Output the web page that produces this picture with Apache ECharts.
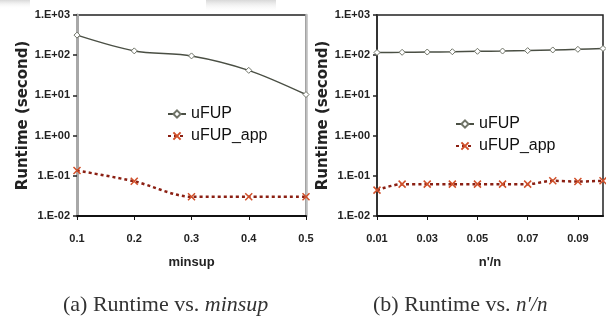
<!DOCTYPE html>
<html>
<head>
<meta charset="utf-8">
<script src="https://cdn.jsdelivr.net/npm/echarts@6/dist/echarts.min.js"></script>
<style>
  html, body { margin: 0; padding: 0; background: #fff; }
  #chart { width: 606px; height: 320px; }
</style>
</head>
<body>
<div id="chart"></div>
<script>
// (a) runtime vs minsup
var minsupCats = ['0.1', '0.2', '0.3', '0.4', '0.5'];
var minsupUFUP = [316, 128, 96, 42, 10.5];
var minsupUFUPApp = [0.135, 0.073, 0.030, 0.030, 0.030];

// (b) runtime vs n'/n
var ratioCats = ['0.01', '0.02', '0.03', '0.04', '0.05', '0.06', '0.07', '0.08', '0.09', '0.1'];
var ratioUFUP = [117, 118, 120, 122, 125, 127, 130, 135, 140, 147];
var ratioUFUPApp = [0.044, 0.062, 0.062, 0.062, 0.062, 0.062, 0.062, 0.075, 0.072, 0.075];

var yMin = 0.01, yMax = 1000;

var crossSym = 'path://M0,0L10,10M10,0L0,10';
var labelFont = 'Liberation Sans';

function expLabel(v) {
    var e = Math.round(Math.log(v) / Math.LN10);
    var s = e < 0 ? '-' : '+';
    var a = Math.abs(e);
    return '1.E' + s + (a < 10 ? '0' + a : a);
}

function yAxisFor(gi, lineColor, lineWidth) {
    return {
        type: 'log', logBase: 10, gridIndex: gi, min: yMin, max: yMax,
        name: 'Runtime (second)', nameLocation: 'middle', nameGap: 45,
        nameTextStyle: { fontFamily: 'DejaVu Sans', fontWeight: 'bold', fontSize: 15, color: '#222' },
        axisLine: { show: true, lineStyle: { color: lineColor, width: lineWidth } },
        axisTick: { show: true, length: 4, inside: false, lineStyle: { color: '#222', width: 1.5 } },
        minorTick: { show: false },
        splitLine: { show: false },
        axisLabel: { formatter: expLabel, margin: 7, fontFamily: labelFont, fontWeight: 'bold', fontSize: 11, color: '#222' }
    };
}

function xAxisFor(gi, cats, name, labelInt) {
    return {
        type: 'category', gridIndex: gi, data: cats, boundaryGap: false,
        name: name, nameLocation: 'middle', nameGap: 40,
        nameTextStyle: { fontFamily: labelFont, fontWeight: 'bold', fontSize: 13, color: '#222' },
        axisLine: { show: true, lineStyle: { color: '#111', width: 2 } },
        axisTick: { show: true, length: 4, interval: labelInt, alignWithLabel: true, lineStyle: { color: '#111' } },
        axisLabel: { interval: labelInt, margin: 17, fontFamily: labelFont, fontWeight: 'bold', fontSize: 11, color: '#222' }
    };
}

function ufupSeries(xi, data) {
    return {
        name: 'uFUP', type: 'line', xAxisIndex: xi, yAxisIndex: xi * 2, data: data,
        smooth: 0.3,
        symbol: 'diamond', symbolSize: 6, showSymbol: true,
        lineStyle: { color: '#4a4f44', width: 1.5 },
        itemStyle: { color: '#fff', borderColor: '#707468', borderWidth: 1 }
    };
}

function appSeries(xi, data) {
    return {
        name: 'uFUP_app', type: 'line', xAxisIndex: xi, yAxisIndex: xi * 2, data: data,
        smooth: 0.3,
        symbol: crossSym, symbolSize: 7, showSymbol: true,
        lineStyle: { color: '#8b1f12', width: 2.5, type: [3, 3] },
        itemStyle: { color: '#e0632a', borderColor: '#d0502a', borderWidth: 1.5 }
    };
}

function legendAt(x, y) {
    return {
        data: ['uFUP', 'uFUP_app'], orient: 'vertical', left: x, top: y,
        itemWidth: 18, itemHeight: 9, itemGap: 6, selectedMode: false,
        textStyle: { fontFamily: labelFont, fontSize: 16, color: '#111' }
    };
}

// soft grey fade for the scan smudges at the top edge
function smudge(x, w, h) {
    return {
        type: 'rect', silent: true, shape: { x: x, y: 0, width: w, height: h },
        style: { fill: new echarts.graphic.LinearGradient(0, 0, 0, 1, [
            { offset: 0, color: 'rgba(200,200,200,0.7)' },
            { offset: 1, color: 'rgba(255,255,255,0)' }
        ]) }
    };
}

var chart = echarts.init(document.getElementById('chart'), null, { renderer: 'canvas' });

var option = {
    backgroundColor: '#fff',
    animation: false,
    graphic: [smudge(0, 30, 9), smudge(206, 70, 12)],
    title: [
        {
            text: '(a) Runtime vs. {it|minsup}', left: 58, top: 289,
            textStyle: { fontFamily: 'Liberation Serif', fontWeight: 'normal', fontSize: 22, color: '#333',
                rich: { it: { fontFamily: 'Liberation Serif', fontStyle: 'italic', fontSize: 22, color: '#333' } } }
        },
        {
            text: '(b) Runtime vs. {it|n′/n}', left: 368, top: 289,
            textStyle: { fontFamily: 'Liberation Serif', fontWeight: 'normal', fontSize: 22, color: '#333',
                rich: { it: { fontFamily: 'Liberation Serif', fontStyle: 'italic', fontSize: 21, color: '#333' } } }
        }
    ],
    legend: [legendAt(162, 101), legendAt(450, 111)],
    grid: [
        { left: 77, right: 300, top: 15, bottom: 104, show: true, borderColor: '#222', borderWidth: 1.5 },
        { left: 377, right: 3, top: 15, bottom: 104, show: true, borderColor: '#222', borderWidth: 1.5 }
    ],
    xAxis: [
        xAxisFor(0, minsupCats, 'minsup', 0),
        xAxisFor(1, ratioCats, "n'/n", 1)
    ],
    yAxis: [
        yAxisFor(0, '#a8a8a8', 3),
        { type: 'log', gridIndex: 0, position: 'right', min: yMin, max: yMax,
          axisLine: { show: true, lineStyle: { color: '#bdbdbd', width: 2.5 } },
          axisTick: { show: false }, axisLabel: { show: false }, splitLine: { show: false } },
        yAxisFor(1, '#333', 2)
    ],
    series: [
        ufupSeries(0, minsupUFUP),
        appSeries(0, minsupUFUPApp),
        ufupSeries(1, ratioUFUP),
        appSeries(1, ratioUFUPApp)
    ]
};

chart.setOption(option);
</script>
</body>
</html>
